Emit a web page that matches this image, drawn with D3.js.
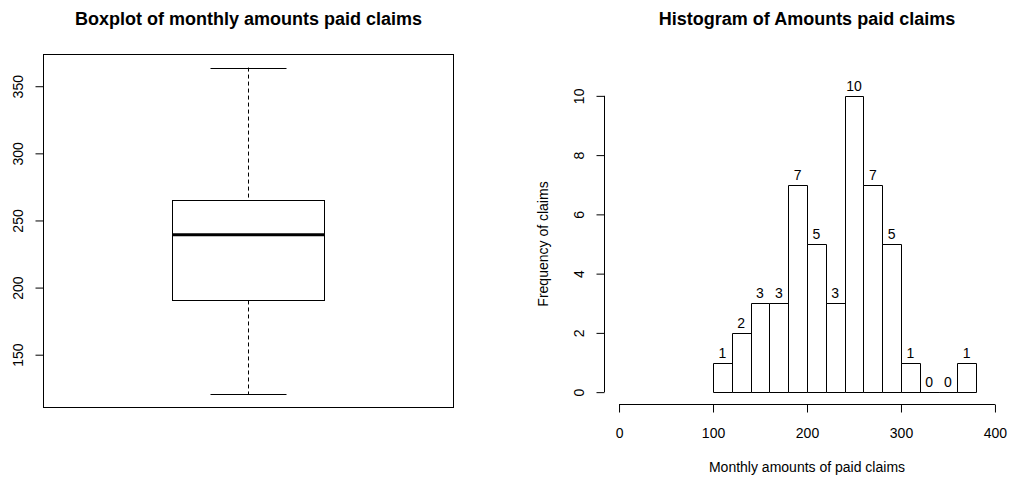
<!DOCTYPE html>
<html>
<head>
<meta charset="utf-8">
<script src="https://cdn.jsdelivr.net/npm/d3@7"></script>
<style>
  body { margin: 0; background: #fff; }
  text { font-family: "Liberation Sans", Arial, sans-serif; fill: #000; }
  .title { font-size: 18px; font-weight: bold; }
  .tick text { font-size: 14px; }
</style>
</head>
<body>
<div id="chart"></div>
<script>
// Data
var boxStats = { min: 120.4, q1: 190.4, median: 239.4, q3: 265.6, max: 363.9 };
var binEdges = [100, 120, 140, 160, 180, 200, 220, 240, 260, 280, 300, 320, 340, 360, 380];
var binCounts = [1, 2, 3, 3, 7, 5, 3, 10, 7, 5, 1, 0, 0, 1];
var boxTicks = [150, 200, 250, 300, 350];
var histXTicks = [0, 100, 200, 300, 400];
var histYTicks = [0, 2, 4, 6, 8, 10];

var svgWidth = 1011;
var svgHeight = 482;
var svg = d3.select('#chart')
    .append('svg')
    .attr('width', svgWidth)
    .attr('height', svgHeight);

// ---------- Boxplot ----------
var boxPanel = { left: 43.5, right: 453.5, top: 54.5, bottom: 407.5 };
var pad = (boxStats.max - boxStats.min) * 0.04;
var yBox = d3.scaleLinear()
    .domain([boxStats.min - pad, boxStats.max + pad])
    .range([boxPanel.bottom, boxPanel.top]);

var boxG = svg.append('g');
boxG.append('text')
    .attr('class', 'title')
    .attr('x', (boxPanel.left + boxPanel.right) / 2)
    .attr('y', 25)
    .attr('text-anchor', 'middle')
    .text('Boxplot of monthly amounts paid claims');

boxG.append('rect')
    .attr('x', boxPanel.left)
    .attr('y', boxPanel.top)
    .attr('width', boxPanel.right - boxPanel.left)
    .attr('height', boxPanel.bottom - boxPanel.top)
    .attr('fill', 'none')
    .attr('stroke', '#000');

var boxAxis = boxG.append('g')
    .attr('transform', `translate(${boxPanel.left},0)`)
    .call(d3.axisLeft(yBox).tickValues(boxTicks).tickSize(8));
boxAxis.select('.domain').remove();
boxAxis.selectAll('.tick line').attr('stroke', '#000');
boxAxis.selectAll('.tick text')
    .attr('transform', 'rotate(-90)')
    .attr('x', 0)
    .attr('y', -25)
    .attr('dy', '0.35em')
    .attr('text-anchor', 'middle');

var cx = (boxPanel.left + boxPanel.right) / 2;
var halfW = 76;
// whiskers
boxG.append('line')
    .attr('x1', cx).attr('x2', cx)
    .attr('y1', yBox(boxStats.max)).attr('y2', yBox(boxStats.q3))
    .attr('stroke', '#000').attr('stroke-dasharray', '4,3');
boxG.append('line')
    .attr('x1', cx).attr('x2', cx)
    .attr('y1', yBox(boxStats.q1)).attr('y2', yBox(boxStats.min))
    .attr('stroke', '#000').attr('stroke-dasharray', '4,3');
// whisker caps
[boxStats.min, boxStats.max].forEach(function(v) {
    boxG.append('line')
        .attr('x1', cx - 38).attr('x2', cx + 38)
        .attr('y1', Math.round(yBox(v)) + 0.5).attr('y2', Math.round(yBox(v)) + 0.5)
        .attr('stroke', '#000');
});
// box
boxG.append('rect')
    .attr('x', cx - halfW)
    .attr('y', Math.round(yBox(boxStats.q3)) + 0.5)
    .attr('width', halfW * 2)
    .attr('height', Math.round(yBox(boxStats.q1)) - Math.round(yBox(boxStats.q3)))
    .attr('fill', 'none')
    .attr('stroke', '#000');
boxG.append('line')
    .attr('x1', cx - halfW).attr('x2', cx + halfW)
    .attr('y1', yBox(boxStats.median)).attr('y2', yBox(boxStats.median))
    .attr('stroke', '#000').attr('stroke-width', 3);

// ---------- Histogram ----------
var histPanel = { left: 604, right: 1010, top: 84, bottom: 404 };
var xHist = d3.scaleLinear().domain([-16, 416]).range([histPanel.left, histPanel.right]);
var yHist = d3.scaleLinear().domain([-0.4, 10.4]).range([histPanel.bottom, histPanel.top]);

var histG = svg.append('g');
histG.append('text')
    .attr('class', 'title')
    .attr('x', (histPanel.left + histPanel.right) / 2)
    .attr('y', 25)
    .attr('text-anchor', 'middle')
    .text('Histogram of Amounts paid claims');

var bins = binCounts.map(function(c, i) {
    return { x0: binEdges[i], x1: binEdges[i + 1], count: c };
});

// bars as closed paths so empty bins still show their base line
histG.append('g').selectAll('path')
    .data(bins)
    .enter()
    .append('path')
    .attr('d', function(d) {
        var x0 = Math.round(xHist(d.x0)) + 0.5;
        var x1 = Math.round(xHist(d.x1)) + 0.5;
        var y0 = Math.round(yHist(0)) + 0.5;
        var y1 = Math.round(yHist(d.count)) + 0.5;
        return `M${x0},${y0}V${y1}H${x1}V${y0}Z`;
    })
    .attr('fill', '#fff')
    .attr('stroke', '#000');

histG.append('g').selectAll('text')
    .data(bins)
    .enter()
    .append('text')
    .attr('x', d => (xHist(d.x0) + xHist(d.x1)) / 2)
    .attr('y', d => yHist(d.count) - 5)
    .attr('text-anchor', 'middle')
    .style('font-size', '14px')
    .text(d => d.count);

// x axis
var xAxisG = histG.append('g')
    .attr('transform', `translate(0,${histPanel.bottom + 0.5})`)
    .call(d3.axisBottom(xHist).tickValues(histXTicks).tickSize(8).tickPadding(16));
xAxisG.select('.domain').remove();
xAxisG.append('line')
    .attr('x1', xHist(histXTicks[0])).attr('x2', xHist(histXTicks[histXTicks.length - 1]))
    .attr('stroke', '#000');
xAxisG.selectAll('.tick line').attr('stroke', '#000');

// y axis
var yAxisG = histG.append('g')
    .attr('transform', `translate(${histPanel.left + 0.5},0)`)
    .call(d3.axisLeft(yHist).tickValues(histYTicks).tickSize(8));
yAxisG.select('.domain').remove();
yAxisG.append('line')
    .attr('y1', yHist(histYTicks[0])).attr('y2', yHist(histYTicks[histYTicks.length - 1]))
    .attr('stroke', '#000');
yAxisG.selectAll('.tick line').attr('stroke', '#000');
yAxisG.selectAll('.tick text')
    .attr('transform', 'rotate(-90)')
    .attr('x', 0)
    .attr('y', -25)
    .attr('dy', '0.35em')
    .attr('text-anchor', 'middle');

histG.append('text')
    .attr('x', (histPanel.left + histPanel.right) / 2)
    .attr('y', 472)
    .attr('text-anchor', 'middle')
    .style('font-size', '14px')
    .text('Monthly amounts of paid claims');

histG.append('text')
    .attr('transform', `translate(548,${(histPanel.top + histPanel.bottom) / 2}) rotate(-90)`)
    .attr('text-anchor', 'middle')
    .style('font-size', '14px')
    .text('Frequency of claims');
</script>
</body>
</html>
